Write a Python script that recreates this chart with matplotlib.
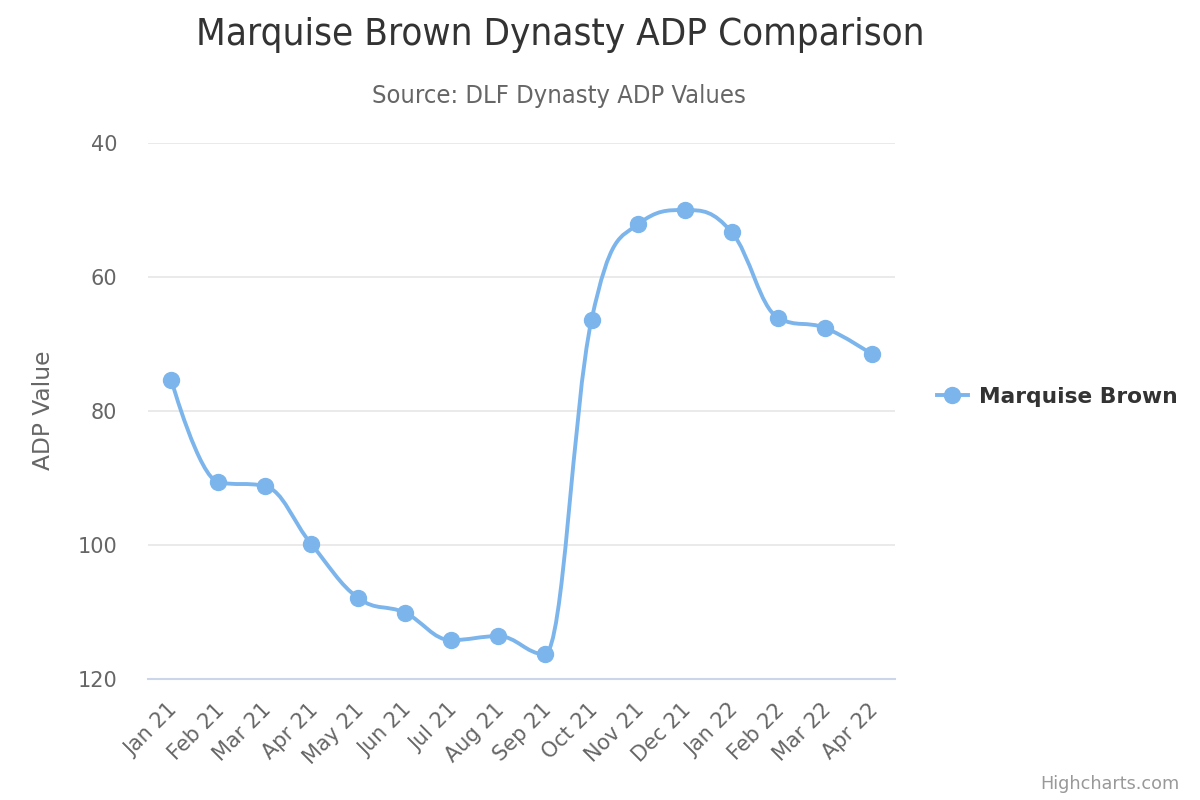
import matplotlib.pyplot as plt
from matplotlib.lines import Line2D
from matplotlib.patches import PathPatch
from matplotlib.path import Path
from matplotlib.transforms import ScaledTranslation

months = ["Jan 21", "Feb 21", "Mar 21", "Apr 21", "May 21", "Jun 21", "Jul 21", "Aug 21",
          "Sep 21", "Oct 21", "Nov 21", "Dec 21", "Jan 22", "Feb 22", "Mar 22", "Apr 22"]
adp = [75.4, 90.6, 91.2, 99.9, 107.9, 110.1, 114.2, 113.6,
       116.3, 66.4, 52.1, 50.0, 53.3, 66.1, 67.6, 71.5]
series_name = "Marquise Brown"

LINE = "#7cb5ec"


def spline_path(xs, ys, smoothing=1.5):
    # highcharts-style spline: cubic bezier between points
    denom = smoothing + 1
    verts = [(xs[0], ys[0])]
    codes = [Path.MOVETO]
    right = [None] * len(xs)
    for i in range(1, len(xs)):
        x, y = xs[i], ys[i]
        lx, ly = xs[i - 1], ys[i - 1]
        lcx, lcy = x, y
        if i < len(xs) - 1:
            nx, ny = xs[i + 1], ys[i + 1]
            lcx = (smoothing * x + lx) / denom
            lcy = (smoothing * y + ly) / denom
            rcx = (smoothing * x + nx) / denom
            rcy = (smoothing * y + ny) / denom
            corr = (rcy - lcy) * (rcx - x) / (rcx - lcx) + y - rcy
            lcy += corr
            rcy += corr
            if lcy > ly and lcy > y:
                lcy = max(ly, y)
                rcy = 2 * y - lcy
            elif lcy < ly and lcy < y:
                lcy = min(ly, y)
                rcy = 2 * y - lcy
            if rcy > ny and rcy > y:
                rcy = max(ny, y)
                lcy = 2 * y - rcy
            elif rcy < ny and rcy < y:
                rcy = min(ny, y)
                lcy = 2 * y - rcy
            right[i] = (rcx, rcy)
        prev = right[i - 1] if right[i - 1] is not None else (lx, ly)
        verts += [prev, (lcx, lcy), (x, y)]
        codes += [Path.CURVE4] * 3
    return Path(verts, codes)


fig = plt.figure(figsize=(12, 8), dpi=100)
ax = fig.add_axes([148 / 1200, 1 - 679 / 800, (895 - 148) / 1200, (679 - 143) / 800])

xs = list(range(len(months)))
ax.add_patch(PathPatch(spline_path(xs, adp), facecolor="none", edgecolor=LINE, lw=2.8,
                       capstyle="round", joinstyle="round", zorder=3))
ax.plot(xs, adp, "o", color=LINE, ms=11.5, zorder=4)

ax.set_xlim(-0.5, len(months) - 0.5)
ax.set_ylim(120, 40)
ax.set_yticks([40, 60, 80, 100, 120])
ax.set_xticks(xs)
ax.set_xticklabels(months, rotation=45, ha="right", rotation_mode="anchor",
                   fontsize=15, color="#666666")
ax.tick_params(axis="y", length=0, pad=22, labelsize=15, labelcolor="#666666")
ax.tick_params(axis="x", length=0, pad=15)
shift = ScaledTranslation(-4 / 100, 0, fig.dpi_scale_trans)
for lab in ax.get_xticklabels():
    lab.set_transform(lab.get_transform() + shift)

ax.grid(axis="y", color="#e6e6e6", lw=1.2)
ax.set_axisbelow(True)
for s in ["top", "left", "right"]:
    ax.spines[s].set_visible(False)
ax.spines["bottom"].set_color("#ccd6eb")
ax.spines["bottom"].set_linewidth(1.5)
ax.spines["bottom"].set_zorder(2)

fig.text(43 / 1200, 1 - 410 / 800, "ADP Value", rotation=90, ha="center", va="center",
         fontsize=16.8, color="#666666")

fig.text(560 / 1200, 1 - 35 / 800, "Marquise Brown Dynasty ADP Comparison", ha="center",
         va="center", fontsize=27.6, color="#333333", fontstretch="condensed")
fig.text(559 / 1200, 1 - 96 / 800, "Source: DLF Dynasty ADP Values", ha="center",
         va="center", fontsize=18.3, color="#666666", fontstretch="condensed")

handle = Line2D([], [], color=LINE, lw=2.8, marker="o", ms=11.5)
fig.legend([handle], [series_name], loc="center left", bbox_to_anchor=(937 / 1200, 1 - 397 / 800),
           frameon=False, handlelength=1.42, handletextpad=0.5, borderpad=0, borderaxespad=0,
           prop={"size": 15.7, "weight": "bold"}, labelcolor="#333333")

fig.text(1180 / 1200, 1 - 784 / 800, "Highcharts.com", ha="right", va="center",
         fontsize=12.7, color="#999999")

fig.savefig("out.png", dpi=100)
